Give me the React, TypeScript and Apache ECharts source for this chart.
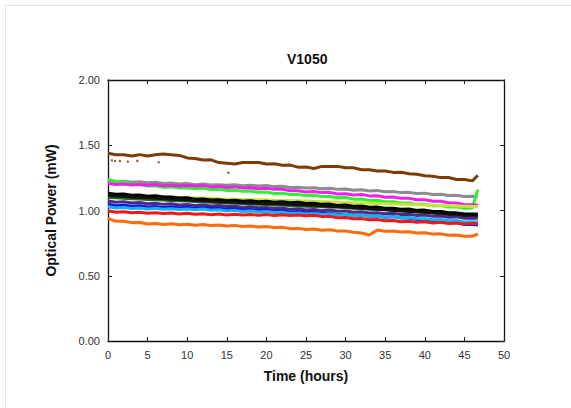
import React, { useEffect, useRef } from "react";
import * as echarts from "echarts";

const hours = [0,1,2,3,4,5,6,7,8,9,10,11,12,13,14,15,16,17,18,19,20,21,22,23,24,25,26,27,28,29,30,31,32,33,34,35,36,37,38,39,40,41,42,43,44,45,46,46.7];

const brown = [1.438,1.428,1.427,1.418,1.428,1.417,1.427,1.433,1.428,1.422,1.403,1.398,1.387,1.388,1.367,1.362,1.357,1.368,1.367,1.368,1.357,1.358,1.347,1.348,1.332,1.333,1.322,1.338,1.337,1.338,1.327,1.328,1.312,1.313,1.302,1.303,1.292,1.293,1.282,1.278,1.267,1.263,1.252,1.253,1.237,1.238,1.227,1.27];
const brownDots = [[0.5,1.385],[0.9,1.38],[1.5,1.38],[2.5,1.375],[3.7,1.38],[6.4,1.37],[15.2,1.29]];
const gray = [1.231,1.223,1.225,1.217,1.221,1.212,1.217,1.207,1.211,1.203,1.208,1.197,1.203,1.195,1.198,1.193,1.197,1.189,1.193,1.188,1.191,1.183,1.185,1.177,1.179,1.172,1.175,1.167,1.171,1.162,1.165,1.155,1.159,1.15,1.153,1.143,1.145,1.137,1.139,1.13,1.133,1.123,1.125,1.115,1.117,1.107,1.109,1.105];
const magenta = [1.208,1.2,1.203,1.195,1.199,1.194,1.197,1.189,1.193,1.188,1.191,1.187,1.191,1.181,1.185,1.177,1.181,1.173,1.175,1.167,1.171,1.162,1.163,1.152,1.151,1.142,1.145,1.137,1.139,1.127,1.129,1.119,1.123,1.112,1.113,1.102,1.103,1.093,1.093,1.082,1.083,1.071,1.071,1.059,1.058,1.045,1.045,1.04];
const green = [1.238,1.222,1.218,1.202,1.201,1.187,1.189,1.177,1.181,1.172,1.175,1.167,1.17,1.16,1.163,1.153,1.155,1.147,1.149,1.139,1.141,1.131,1.133,1.122,1.123,1.115,1.117,1.107,1.108,1.097,1.099,1.087,1.088,1.077,1.078,1.067,1.068,1.057,1.058,1.047,1.048,1.037,1.038,1.027,1.028,1.017,1.02,1.16];
const yellowGreen = [1.12,1.118,1.115,1.112,1.11,1.108,1.106,1.104,1.102,1.1,1.098,1.096,1.095,1.093,1.09,1.088,1.087,1.085,1.083,1.082,1.08,1.078,1.077,1.076,1.075,1.073,1.07,1.068,1.066,1.064,1.062,1.06,1.058,1.056,1.054,1.052,1.05,1.048,1.046,1.044,1.042,1.04,1.038,1.036,1.034,1.032,1.03,1.03];
const black1 = [1.133,1.125,1.127,1.117,1.119,1.109,1.113,1.103,1.103,1.095,1.097,1.087,1.089,1.081,1.083,1.075,1.079,1.071,1.075,1.067,1.071,1.063,1.067,1.059,1.063,1.053,1.055,1.047,1.049,1.039,1.043,1.033,1.035,1.025,1.027,1.017,1.018,1.009,1.011,1.001,1.003,0.992,0.993,0.982,0.981,0.969,0.969,0.965];
const black2 = [1.115,1.112,1.108,1.104,1.1,1.097,1.094,1.09,1.086,1.084,1.08,1.077,1.074,1.072,1.068,1.066,1.063,1.06,1.058,1.056,1.054,1.052,1.05,1.047,1.045,1.042,1.04,1.036,1.033,1.03,1.026,1.022,1.018,1.014,1.01,1.005,1.0,0.996,0.992,0.988,0.984,0.98,0.975,0.97,0.964,0.958,0.952,0.95];
const darkGreen = [1.1,1.097,1.094,1.09,1.088,1.085,1.082,1.08,1.077,1.074,1.072,1.068,1.065,1.063,1.06,1.058,1.056,1.053,1.05,1.048,1.046,1.043,1.04,1.038,1.035,1.033,1.03,1.028,1.026,1.024,1.022,1.018,1.015,1.012,1.01,1.008,1.005,1.002,1.0,0.998,0.995,0.992,0.988,0.984,0.98,0.977,0.975,0.975];
const purple = [1.073,1.063,1.067,1.057,1.061,1.052,1.055,1.047,1.051,1.043,1.046,1.039,1.043,1.035,1.038,1.03,1.033,1.025,1.029,1.021,1.023,1.015,1.018,1.009,1.013,1.004,1.007,0.999,1.003,0.994,0.997,0.987,0.99,0.981,0.983,0.975,0.978,0.969,0.971,0.962,0.965,0.955,0.958,0.949,0.951,0.941,0.943,0.94];
const blue = [1.048,1.037,1.04,1.032,1.036,1.027,1.031,1.023,1.028,1.021,1.025,1.018,1.023,1.015,1.018,1.01,1.013,1.005,1.008,1.0,1.003,0.995,0.998,0.989,0.993,0.983,0.986,0.977,0.979,0.969,0.971,0.962,0.965,0.955,0.958,0.949,0.953,0.942,0.943,0.931,0.931,0.919,0.919,0.907,0.906,0.893,0.893,0.888];
const cyan = [1.028,1.019,1.023,1.015,1.02,1.012,1.017,1.009,1.014,1.007,1.012,1.005,1.011,1.002,1.006,0.997,1.001,0.993,0.997,0.989,0.993,0.984,0.987,0.977,0.981,0.973,0.977,0.969,0.973,0.965,0.969,0.96,0.963,0.955,0.958,0.949,0.953,0.944,0.947,0.937,0.939,0.929,0.931,0.921,0.923,0.912,0.913,0.912];
const red = [0.998,0.987,0.991,0.982,0.987,0.979,0.983,0.977,0.981,0.974,0.979,0.972,0.975,0.967,0.973,0.966,0.971,0.965,0.97,0.963,0.969,0.962,0.968,0.961,0.966,0.959,0.963,0.953,0.955,0.945,0.947,0.937,0.939,0.929,0.931,0.921,0.923,0.914,0.917,0.909,0.913,0.905,0.909,0.901,0.905,0.897,0.901,0.9];
const orange = [0.938,0.918,0.918,0.907,0.908,0.897,0.901,0.892,0.898,0.89,0.895,0.887,0.893,0.885,0.889,0.882,0.886,0.877,0.881,0.873,0.878,0.869,0.871,0.861,0.863,0.855,0.858,0.849,0.853,0.842,0.843,0.833,0.828,0.812,0.851,0.841,0.843,0.835,0.837,0.827,0.829,0.819,0.821,0.811,0.813,0.802,0.803,0.82];

const xTicks = { min: 0, max: 50, interval: 5 };
const yTicks = { min: 0, max: 2, interval: 0.5 };

const FONT = "Liberation Sans, Arial, sans-serif";

const lineSeries: [string, number[], string][] = [
  ["brown", brown, "#7a3d05"],
  ["gray", gray, "#8c8c8c"],
  ["green", green, "#2ef22e"],
  ["magenta", magenta, "#f01ef0"],
  ["yellowGreen", yellowGreen, "#c6e43a"],
  ["darkGreen", darkGreen, "#236b23"],
  ["black1", black1, "#000000"],
  ["black2", black2, "#111111"],
  ["purple", purple, "#4a2a86"],
  ["blue", blue, "#1414e6"],
  ["cyan", cyan, "#12b4ef"],
  ["red", red, "#f01818"],
  ["orange", orange, "#ff6a0a"],
];

export default function App() {
  const ref = useRef<HTMLDivElement>(null);
  useEffect(() => {
    const chart = echarts.init(ref.current!, undefined, { renderer: "svg" });
    const axisLine = { show: true, onZero: false, lineStyle: { color: "#111", width: 1.3 } };
    const axisTick = { show: true, inside: true, length: 4, lineStyle: { color: "#222", width: 1 } };
    const series: any[] = lineSeries.map(([name, vals, color]) => ({
      name,
      type: "line",
      xAxisIndex: 0,
      yAxisIndex: 0,
      showSymbol: false,
      symbol: "none",
      data: hours.map((h, i) => [h, vals[i]]),
      lineStyle: { color, width: 3 },
      itemStyle: { color },
    }));
    series.push({
      name: "brownDots",
      type: "scatter",
      xAxisIndex: 0,
      yAxisIndex: 0,
      symbolSize: 2.5,
      data: brownDots,
      itemStyle: { color: "#7a3d05" },
    });
    chart.setOption({
      animation: false,
      backgroundColor: "#ffffff",
      title: {
        text: "V1050",
        left: 287,
        top: 52,
        padding: 0,
        textStyle: { fontSize: 14, fontWeight: "bold", color: "#111", fontFamily: FONT },
      },
      grid: { left: 108, top: 80, right: 67, bottom: 67, containLabel: false },
      xAxis: [
        {
          type: "value",
          ...xTicks,
          position: "bottom",
          axisLine,
          axisTick,
          splitLine: { show: false },
          axisLabel: { color: "#333", fontSize: 11, margin: 8, fontFamily: FONT },
          name: "Time (hours)",
          nameLocation: "middle",
          nameGap: 28,
          nameTextStyle: { fontSize: 14, fontWeight: "bold", color: "#111", fontFamily: FONT },
        },
        {
          type: "value",
          ...xTicks,
          position: "top",
          axisLine,
          axisTick,
          splitLine: { show: false },
          axisLabel: { show: false },
        },
      ],
      yAxis: [
        {
          type: "value",
          ...yTicks,
          position: "left",
          axisLine,
          axisTick,
          splitLine: { show: false },
          axisLabel: {
            color: "#333",
            fontSize: 11,
            margin: 8,
            fontFamily: FONT,
            formatter: (v: number) => v.toFixed(2),
          },
          name: "Optical Power (mW)",
          nameLocation: "middle",
          nameGap: 50,
          nameTextStyle: { fontSize: 14, fontWeight: "bold", color: "#111", fontFamily: FONT },
        },
        {
          type: "value",
          ...yTicks,
          position: "right",
          axisLine,
          axisTick,
          splitLine: { show: false },
          axisLabel: { show: false },
        },
      ],
      graphic: [
        { type: "line", shape: { x1: 5.5, y1: 5.5, x2: 571, y2: 5.5 }, style: { stroke: "#e2e2e2", lineWidth: 1 } },
        { type: "line", shape: { x1: 5.5, y1: 5.5, x2: 5.5, y2: 408 }, style: { stroke: "#e2e2e2", lineWidth: 1 } },
      ],
      series,
    });
    return () => chart.dispose();
  }, []);
  return <div ref={ref} style={{ position: "absolute", left: 0, top: 0, width: 571, height: 408 }} />;
}
